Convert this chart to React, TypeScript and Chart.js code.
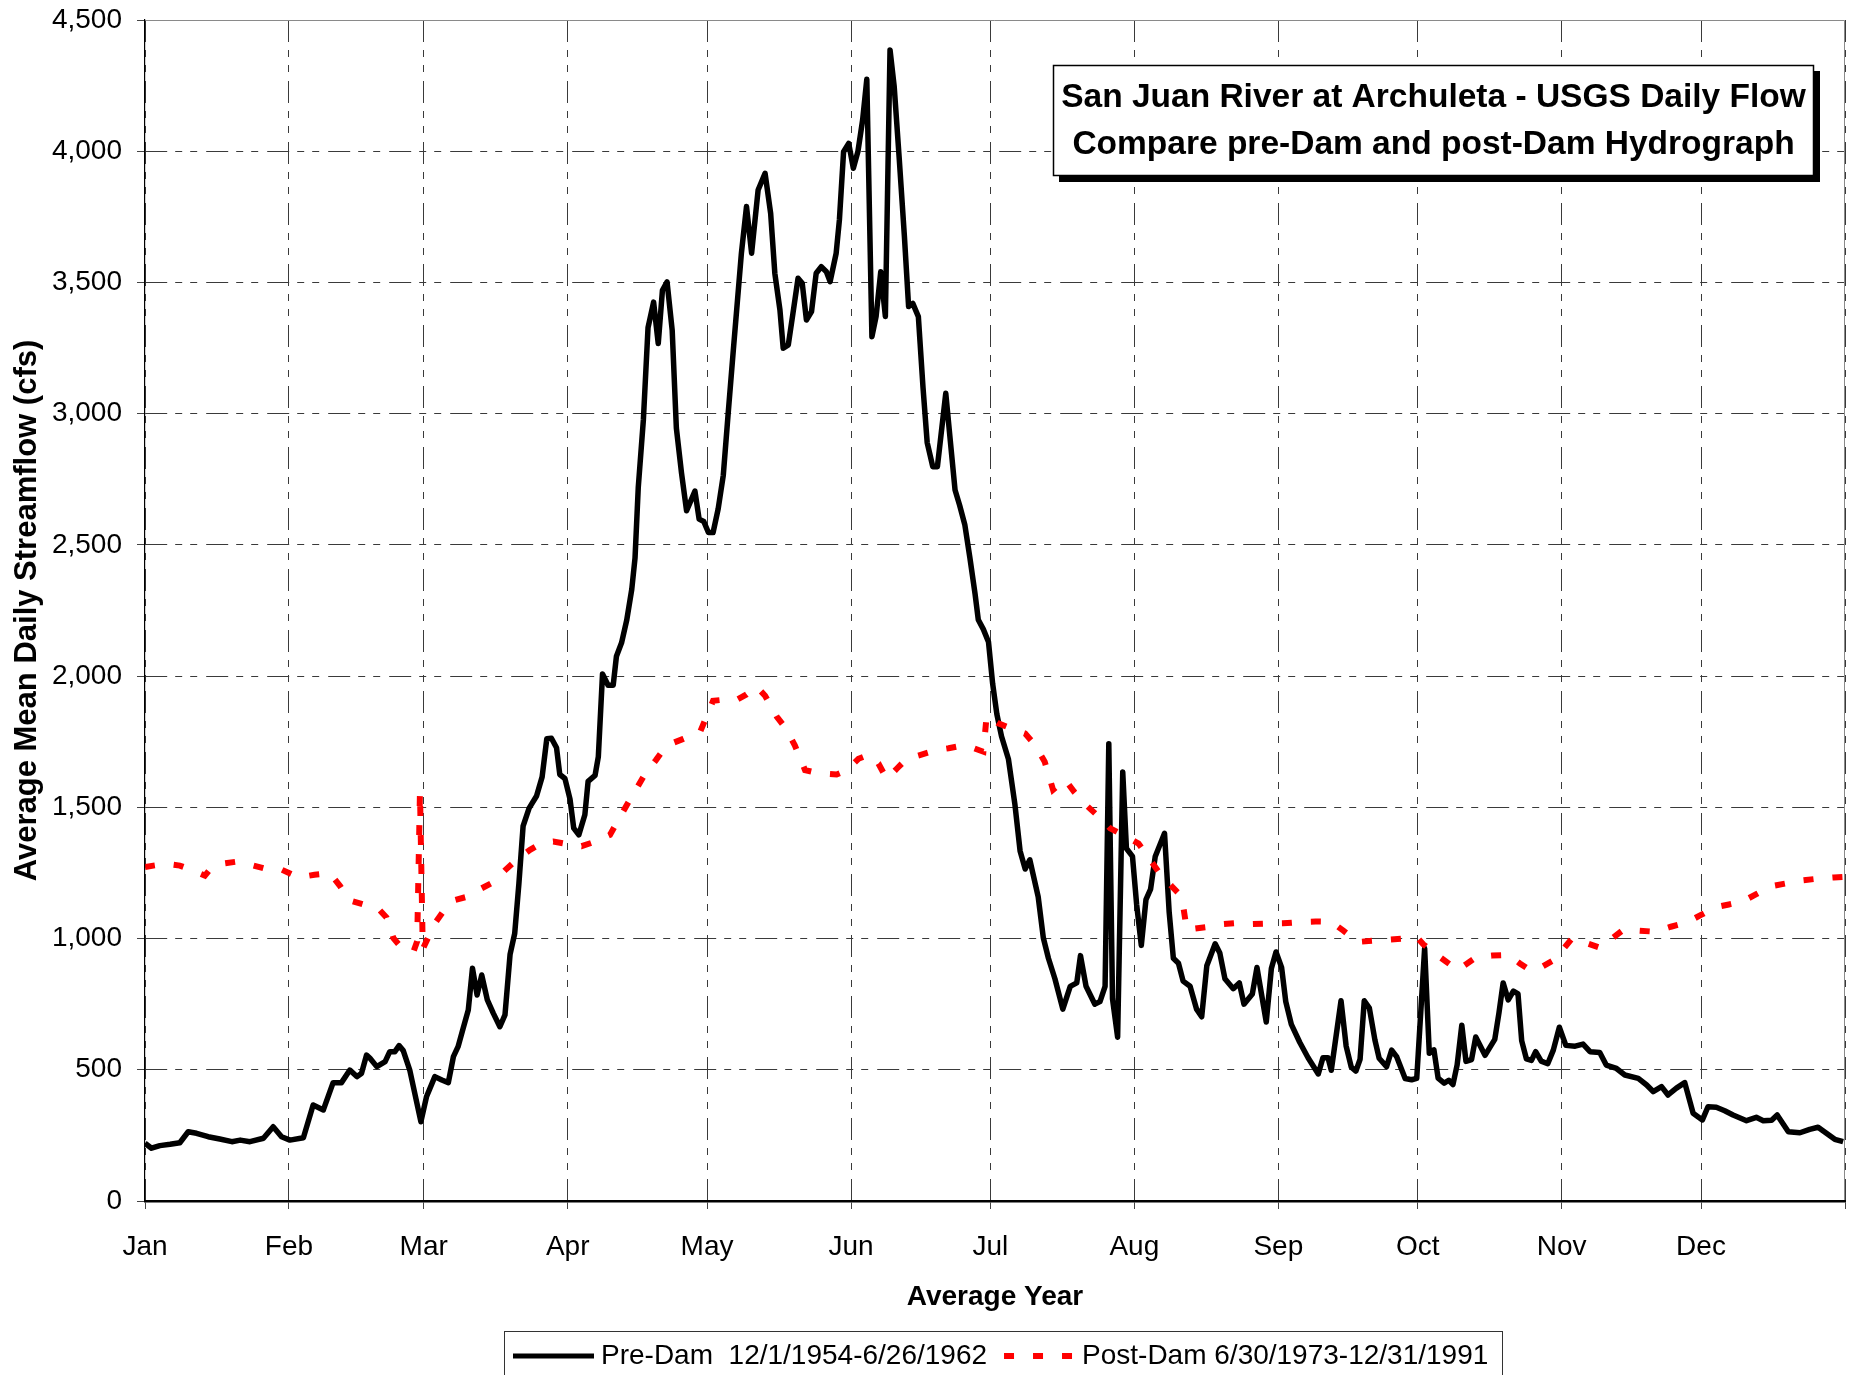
import React, { useEffect, useRef } from 'react';
import { Chart, registerables } from 'chart.js';

Chart.register(...registerables);

const FONT = 'Arial, "Liberation Sans", Helvetica, sans-serif';

// ---- text ----
const chartTitleLines = [
  'San Juan River at Archuleta - USGS Daily Flow',
  'Compare pre-Dam and post-Dam Hydrograph',
];
const xAxisTitle = 'Average Year';
const yAxisTitle = 'Average Mean Daily Streamflow (cfs)';
const preDamLabel = 'Pre-Dam  12/1/1954-6/26/1962';
const postDamLabel = 'Post-Dam 6/30/1973-12/31/1991';

// ---- axes ----
const monthStartDays = [0, 31, 60, 91, 121, 152, 182, 213, 244, 274, 305, 335, 366];
const monthLabels = ['Jan', 'Feb', 'Mar', 'Apr', 'May', 'Jun', 'Jul', 'Aug', 'Sep', 'Oct', 'Nov', 'Dec', ''];
const yTickValues = [0, 500, 1000, 1500, 2000, 2500, 3000, 3500, 4000, 4500];

// ---- Pre-Dam series (day of average year, cfs) ----
const preDamDay = [
  0, 1.4, 3.2, 5.4, 7.5, 9.3, 11.1, 13.6, 16.1, 18.7,
  20.5, 22.6, 25.5, 27.6, 29.4, 31.2, 34.1, 36.2, 38.4, 40.5,
  42.3, 44.1, 45.6, 46.6, 47.7, 48.4, 49.9, 51.7, 52.7, 53.8,
  54.7, 55.6, 57.0, 59.4, 60.6, 62.4, 63.9, 65.3, 66.4, 67.4,
  68.5, 69.6, 70.5, 71.5, 72.5, 73.7, 75.0, 76.4, 77.5, 78.6,
  79.6, 80.5, 81.4, 82.7, 84.3, 85.5, 86.5, 87.5, 88.6, 89.3,
  90.4, 91.5, 92.3, 93.4, 94.7, 95.4, 96.9, 97.6, 98.5, 99.7,
  100.8, 101.5, 102.6, 103.7, 104.8, 105.5, 106.2, 107.3, 108.3, 109.5,
  110.5, 111.4, 112.4, 113.5, 114.4, 115.5, 116.6, 118.4, 119.3, 120.3,
  121.3, 122.3, 123.4, 124.5, 125.6, 126.7, 127.5, 128.4, 129.5, 130.6,
  132.0, 133.5, 134.7, 135.6, 136.7, 137.4, 138.5, 139.5, 140.6, 141.5,
  142.4, 143.5, 144.5, 145.6, 146.7, 147.5, 148.8, 149.5, 150.4, 151.5,
  152.5, 153.5, 154.5, 155.4, 156.5, 157.4, 158.4, 159.4, 160.4, 161.3,
  162.4, 163.5, 164.4, 165.3, 166.5, 167.5, 168.4, 169.6, 170.6, 172.4,
  173.5, 174.4, 175.4, 176.5, 177.6, 178.7, 179.4, 180.5, 181.6, 182.5,
  183.4, 184.4, 185.9, 187.3, 188.4, 189.5, 190.5, 192.3, 193.4, 194.5,
  195.9, 197.6, 199.2, 200.6, 201.4, 202.6, 204.5, 205.6, 206.7, 207.5,
  208.3, 209.4, 210.5, 211.3, 212.6, 213.5, 214.5, 215.5, 216.5, 217.5,
  219.5, 220.5, 221.4, 222.5, 223.5, 225.0, 226.4, 227.5, 228.6, 230.4,
  231.4, 232.5, 234.3, 235.6, 236.6, 238.4, 239.4, 241.4, 242.5, 243.5,
  244.7, 245.6, 246.8, 248.6, 250.4, 252.6, 253.6, 254.7, 255.4, 257.5,
  258.6, 259.7, 260.7, 261.6, 262.5, 263.6, 264.8, 265.7, 267.3, 268.4,
  269.5, 271.3, 272.7, 273.8, 275.5, 276.5, 277.5, 278.4, 279.7, 280.7,
  281.6, 282.5, 283.5, 284.4, 285.6, 286.5, 288.5, 290.6, 291.5, 292.4,
  293.5, 294.6, 295.6, 296.4, 297.4, 298.5, 299.4, 300.6, 302.0, 303.2,
  304.5, 305.9, 307.9, 309.6, 311.1, 313.2, 314.6, 316.8, 318.6, 321.5,
  323.3, 324.7, 326.5, 327.9, 329.7, 331.5, 333.3, 335.3, 336.5, 338.3,
  340.1, 341.9, 344.8, 346.9, 348.4, 350.2, 351.4, 353.8, 356.3, 358.4,
  360.2, 362.0, 363.8, 365.6,
];
const preDamFlow = [
  220, 201, 211, 216, 222, 264, 258, 245, 236, 226,
  232, 226, 239, 283, 245, 232, 241, 366, 347, 451,
  451, 499, 474, 486, 556, 545, 512, 531, 569, 569,
  592, 573, 499, 302, 397, 474, 461, 451, 550, 588,
  658, 728, 887, 785, 861, 766, 715, 664, 709, 940,
  1020, 1210, 1428, 1497, 1543, 1616, 1761, 1763, 1727, 1625,
  1610, 1531, 1421, 1395, 1472, 1599, 1622, 1693, 2008, 1965,
  1965, 2076, 2127, 2212, 2331, 2450, 2720, 2977, 3328, 3425,
  3267, 3470, 3502, 3318, 2945, 2775, 2630, 2705, 2598, 2589,
  2547, 2547, 2637, 2765, 3011, 3250, 3420, 3611, 3789, 3611,
  3852, 3916, 3763, 3535, 3395, 3249, 3262, 3382, 3516, 3497,
  3357, 3389, 3535, 3560, 3541, 3503, 3611, 3738, 3998, 4030,
  3935, 4000, 4119, 4274, 3293, 3370, 3541, 3370, 4386, 4246,
  3967, 3674, 3408, 3420, 3370, 3100, 2890, 2798, 2798, 3078,
  2874, 2709, 2650, 2577, 2450, 2314, 2215, 2178, 2130, 1970,
  1855, 1771, 1683, 1509, 1334, 1265, 1300, 1159, 1003, 925,
  847, 731, 818, 831, 935, 818, 750, 760, 818, 1742,
  770, 624, 1635, 1343, 1313, 1129, 974, 1148, 1188, 1313,
  1401, 1100, 925, 906, 838, 818, 731, 702, 896, 980,
  945, 847, 809, 831, 750, 789, 890, 682, 886, 949,
  890, 760, 673, 605, 546, 484, 546, 546, 498, 763,
  590, 510, 495, 540, 763, 735, 613, 544, 512, 575,
  549, 467, 462, 467, 963, 563, 576, 468, 449, 460,
  444, 519, 670, 532, 539, 625, 555, 616, 717, 831,
  766, 800, 789, 610, 542, 536, 569, 533, 523, 575,
  662, 593, 590, 598, 569, 566, 518, 505, 480, 467,
  442, 417, 436, 404, 430, 451, 334, 309, 359, 357,
  344, 328, 306, 319, 306, 308, 328, 264, 260, 273,
  281, 258, 235, 226,
];

// ---- Post-Dam series (day of average year, cfs) ----
const postDamDay = [
  0, 1.8, 4.5, 7.5, 10, 12.9, 14.3, 16.5, 19.7, 23,
  26.3, 29.5, 33.0, 36.5, 39.8, 42, 43.8, 47, 50.2, 52,
  53.5, 55.5, 57.8, 58.6, 59.2, 59.8, 62.4, 64.5, 66.7, 69.5,
  72.1, 75, 77.5, 80, 82.9, 85.5, 87.9, 91, 94.0, 97,
  100.1, 103.7, 107.6, 110, 112.3, 115.9, 119.5, 122.3, 124.5, 127.0,
  129.5, 131.7, 133.5, 136.0, 138, 139.9, 142.1, 145, 148.9, 151,
  153.6, 155.8, 157.9, 159.7, 162, 164.0, 167, 170.4, 173, 176.2,
  178.5, 180.5, 181.2, 183.7, 186.5, 189.5, 191.5, 193.7, 195.5, 198.1,
  200, 202.4, 205, 207.8, 211, 213.9, 216, 218.2, 221, 223.2,
  224.3, 227, 229.3, 232, 235.0, 238.5, 241.9, 245, 248.7, 252,
  255.4, 258, 261.1, 264.5, 267.6, 270.8, 273.9, 275.2, 278.9, 282.6,
  286.6, 290, 293.6, 296, 298.4, 301, 303.5, 307.2, 310, 313.3,
  315.8, 318.4, 321.7, 325.1, 328.5, 331.9, 335, 338.0, 341, 343.9,
  347, 350.2, 353.3, 356.4, 360, 363.6, 365.6,
];
const postDamFlow = [
  1272, 1278, 1285, 1278, 1262, 1240, 1270, 1285, 1293, 1280,
  1264, 1262, 1233, 1243, 1249, 1200, 1147, 1130, 1115, 1080,
  1001, 960, 950, 990, 1560, 960, 1058, 1110, 1147, 1160,
  1188, 1215, 1260, 1300, 1338, 1365, 1370, 1360, 1352, 1370,
  1395, 1508, 1625, 1680, 1736, 1761, 1787, 1906, 1910, 1906,
  1930, 1960, 1925, 1846, 1800, 1736, 1642, 1630, 1625, 1640,
  1685, 1700, 1667, 1608, 1650, 1685, 1700, 1718, 1725, 1736,
  1725, 1712, 1849, 1820, 1800, 1781, 1740, 1674, 1567, 1606,
  1560, 1512, 1470, 1420, 1390, 1362, 1310, 1255, 1200, 1160,
  1034, 1040, 1045, 1055, 1059, 1055, 1057, 1058, 1063, 1065,
  1064, 1030, 987, 992, 996, 1000, 1004, 978, 928, 880,
  929, 935, 937, 905, 877, 895, 920, 1000, 985, 965,
  1000, 1035, 1030, 1026, 1045, 1061, 1090, 1119, 1130, 1141,
  1170, 1200, 1210, 1221, 1228, 1233, 1235,
];

const GRID_DASH = [22, 8, 7, 8, 7, 9];
const GRID_COLOR = '#3a3a3a';

const decorPlugin = {
  id: 'decor',
  beforeDatasetsDraw(chart: any) {
    const { ctx, chartArea: a } = chart;
    ctx.save();
    ctx.strokeStyle = '#8a8a8a';
    ctx.lineWidth = 1;
    ctx.beginPath();
    ctx.moveTo(a.left, Math.round(a.top) + 0.5);
    ctx.lineTo(Math.round(a.right) - 0.5, Math.round(a.top) + 0.5);
    ctx.lineTo(Math.round(a.right) - 0.5, a.bottom);
    ctx.stroke();
    ctx.restore();
  },
  afterDraw(chart: any) {
    const { ctx, chartArea: a } = chart;
    // --- title box with drop shadow ---
    const bx = a.right - 792;
    const by = a.top + 45;
    const bw = 761;
    const bh = 111;
    ctx.save();
    ctx.fillStyle = '#000';
    ctx.fillRect(bx + 6, by + 6, bw, bh);
    ctx.fillStyle = '#fff';
    ctx.fillRect(bx, by, bw, bh);
    ctx.strokeStyle = '#000';
    ctx.lineWidth = 1.5;
    ctx.strokeRect(bx + 0.5, by + 0.5, bw - 1, bh - 1);
    ctx.fillStyle = '#000';
    ctx.font = `bold 33.5px ${FONT}`;
    ctx.textAlign = 'center';
    ctx.textBaseline = 'alphabetic';
    ctx.fillText(chartTitleLines[0], bx + bw / 2, by + 42);
    ctx.fillText(chartTitleLines[1], bx + bw / 2, by + 89);
    ctx.restore();

    // --- legend box at bottom ---
    const ds = chart.data.datasets;
    const ly = 1356;
    ctx.save();
    ctx.strokeStyle = '#333';
    ctx.lineWidth = 1;
    ctx.strokeRect(504.5, 1331.5, 998, 70);
    ctx.font = `28px ${FONT}`;
    ctx.textAlign = 'left';
    ctx.textBaseline = 'middle';
    ctx.fillStyle = '#000';
    // series 1
    let x = 513;
    ctx.strokeStyle = ds[0].borderColor;
    ctx.lineWidth = 5;
    ctx.setLineDash([]);
    ctx.beginPath();
    ctx.moveTo(x, ly);
    ctx.lineTo(x + 81, ly);
    ctx.stroke();
    x += 88;
    ctx.fillText(ds[0].label, x, ly);
    x += ctx.measureText(ds[0].label).width + 17;
    // series 2
    ctx.strokeStyle = ds[1].borderColor;
    ctx.lineWidth = ds[1].borderWidth;
    ctx.setLineDash(ds[1].borderDash);
    ctx.beginPath();
    ctx.moveTo(x, ly);
    ctx.lineTo(x + 68, ly);
    ctx.stroke();
    ctx.setLineDash([]);
    x += 78;
    ctx.fillText(ds[1].label, x, ly);
    ctx.restore();
  },
};

export default function App() {
  const ref = useRef<HTMLCanvasElement>(null);

  useEffect(() => {
    document.body.style.margin = '0';
    const canvas = ref.current;
    if (!canvas) return;
    Chart.defaults.font.family = FONT;
    Chart.defaults.color = '#000';

    const tickFont = { family: FONT, size: 28 };
    const xTitleFont = { family: FONT, size: 28, weight: 'bold' as const };
    const yTitleFont = { family: FONT, size: 31, weight: 'bold' as const };

    const chart = new Chart(canvas, {
      type: 'line',
      data: {
        datasets: [
          {
            label: preDamLabel,
            data: preDamDay.map((d, i) => ({ x: d, y: preDamFlow[i] })),
            borderColor: '#000000',
            borderWidth: 5.5,
            borderJoinStyle: 'round',
            pointRadius: 0,
            fill: false,
            tension: 0,
            order: 1,
          },
          {
            label: postDamLabel,
            data: postDamDay.map((d, i) => ({ x: d, y: postDamFlow[i] })),
            borderColor: '#ff0000',
            borderWidth: 6,
            borderDash: [10, 19],
            borderCapStyle: 'butt',
            pointRadius: 0,
            fill: false,
            tension: 0,
            order: 0,
          },
        ],
      },
      options: {
        responsive: false,
        animation: false,
        devicePixelRatio: 1,
        layout: { padding: { left: 0, right: 6, top: 20, bottom: 55 } },
        plugins: {
          legend: { display: false },
          tooltip: { enabled: false },
          title: { display: false },
        },
        scales: {
          x: {
            type: 'linear',
            min: 0,
            max: 366,
            afterBuildTicks: (axis: any) => {
              axis.ticks = monthStartDays.map((v) => ({ value: v }));
            },
            afterFit: (scale: any) => {
              scale.height = 119;
              scale.paddingLeft = 0;
              scale.paddingRight = 0;
              scale.paddingTop = 0;
              scale.paddingBottom = 0;
            },
            ticks: {
              autoSkip: false,
              maxRotation: 0,
              minRotation: 0,
              padding: 21,
              font: tickFont,
              color: '#000',
              callback: (v: any) => {
                const i = monthStartDays.indexOf(Number(v));
                return i >= 0 ? monthLabels[i] : '';
              },
            },
            grid: {
              color: GRID_COLOR,
              lineWidth: 1,
              tickLength: 8,
              tickColor: '#444',
              tickWidth: 1,
              tickBorderDash: [],
            },
            border: { display: true, color: '#000', width: 2.5, dash: GRID_DASH, z: 1 },
            title: {
              display: true,
              text: xAxisTitle,
              font: xTitleFont,
              color: '#000',
              padding: { top: 0, bottom: 6 },
            },
          },
          y: {
            type: 'linear',
            min: 0,
            max: 4500,
            afterBuildTicks: (axis: any) => {
              axis.ticks = yTickValues.map((v) => ({ value: v }));
            },
            afterFit: (scale: any) => {
              scale.width = 145;
              scale.paddingLeft = 0;
              scale.paddingRight = 0;
              scale.paddingTop = 0;
              scale.paddingBottom = 0;
            },
            ticks: {
              padding: 15,
              font: tickFont,
              color: '#000',
              callback: (v: any) => Number(v).toLocaleString('en-US'),
            },
            grid: {
              color: GRID_COLOR,
              lineWidth: 1,
              tickLength: 8,
              tickColor: '#444',
              tickWidth: 1,
              tickBorderDash: [],
            },
            border: { display: true, color: '#000', width: 1.2, dash: GRID_DASH, z: 1 },
            title: {
              display: true,
              text: yAxisTitle,
              font: yTitleFont,
              color: '#000',
              padding: { top: 9, bottom: 0 },
            },
          },
        },
      } as any,
      plugins: [decorPlugin],
    });

    return () => chart.destroy();
  }, []);

  return (
    <div style={{ width: 1851, height: 1375, overflow: 'hidden', background: '#fff' }}>
      <canvas ref={ref} width={1851} height={1375} style={{ display: 'block', width: 1851, height: 1375 }} />
    </div>
  );
}
